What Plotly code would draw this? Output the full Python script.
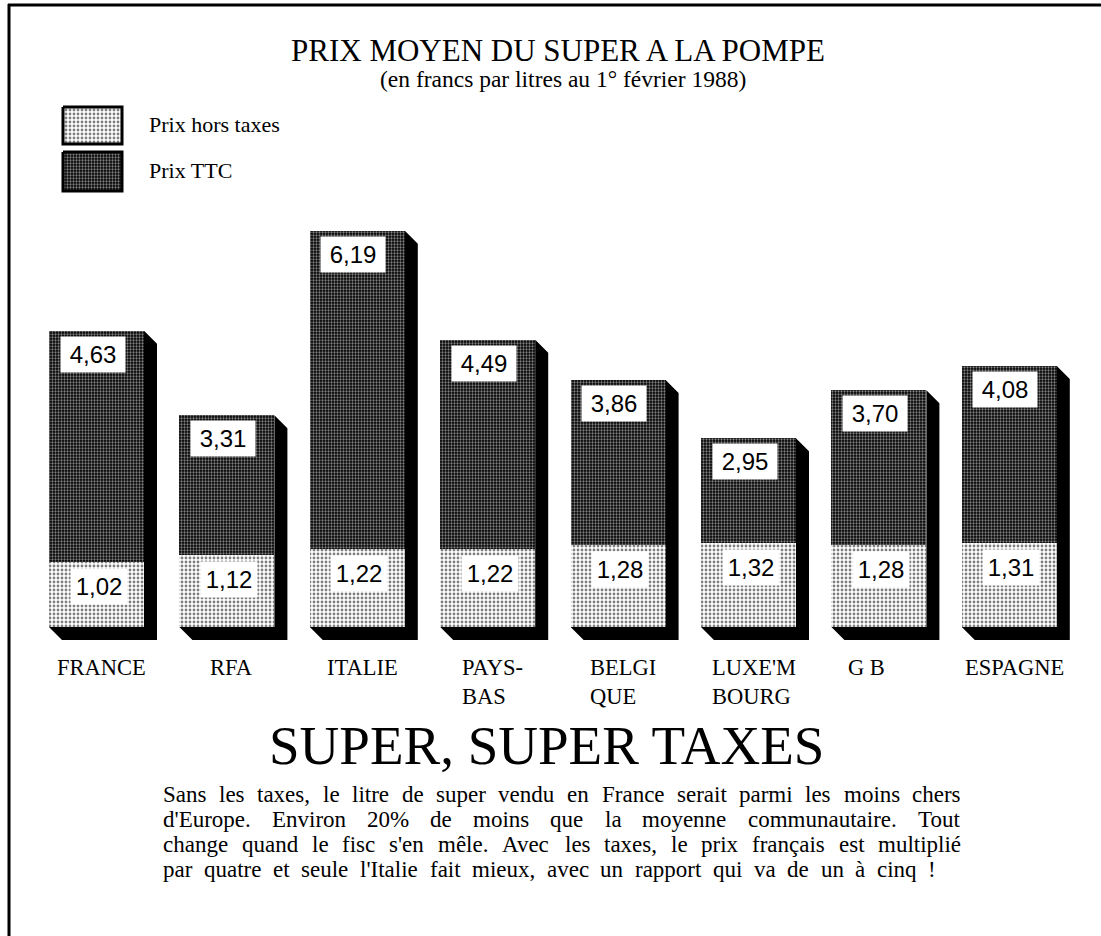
import plotly.graph_objects as go

# ---------------- data ----------------
countries = ["FRANCE", "RFA", "ITALIE", "PAYS-<br>BAS", "BELGI<br>QUE",
             "LUXE'M<br>BOURG", "G B", "ESPAGNE"]
prix_ht = [1.02, 1.12, 1.22, 1.22, 1.28, 1.32, 1.28, 1.31]
prix_ttc = [4.63, 3.31, 6.19, 4.49, 3.86, 2.95, 3.70, 4.08]
legend_names = ["Prix hors taxes", "Prix TTC"]

title = "PRIX MOYEN DU SUPER A LA POMPE"
subtitle = "(en francs par litres au 1° février 1988)"
headline = "SUPER, SUPER TAXES"
paragraph = [
    "Sans les taxes, le litre de super vendu en France serait parmi les moins chers",
    "d'Europe. Environ 20% de moins que la moyenne communautaire. Tout",
    "change quand le fisc s'en mêle. Avec les taxes, le prix français est multiplié",
    "par quatre et seule l'Italie fait mieux, avec un rapport qui va de un à cinq !",
]

# ---------------- geometry / style ----------------
W, H = 1101, 936
STEP_PX = 130.4          # distance between bars in px
C0_PX = 96.5             # centre of first bar in px
BASE_PX = 627            # baseline in px
UNIT_PX = 64.0           # px per franc
BAR_PX = 95
DEPTH_PX = 13

xmin = -C0_PX / STEP_PX
xmax = (W - C0_PX) / STEP_PX
ymax = BASE_PX / UNIT_PX
ymin = (BASE_PX - H) / UNIT_PX
bw = BAR_PX / STEP_PX
dx = DEPTH_PX / STEP_PX
dy = DEPTH_PX / UNIT_PX

serif = "Liberation Serif, Times New Roman, serif"
sans = "Liberation Sans, Arial, sans-serif"

light_pat = dict(shape=".", bgcolor="white", fgcolor="black", size=4, solidity=0.4)
dark_pat = dict(shape=".", bgcolor="black", fgcolor="white", size=3, solidity=0.45)

label_xshift = {"G B": -17}


def fmt(v):
    return f"{v:.2f}".replace(".", ",")


# Times-metric advance widths (per 1000 em) used to justify the paragraph
TW = {c: 500 for c in "0123456789abdghknopquvxy"}
TW.update({"a": 444, "c": 444, "e": 444, "z": 444, "f": 333, "r": 333, "i": 278,
           "j": 278, "l": 278, "t": 278, "m": 778, "s": 389, "w": 722,
           "A": 722, "E": 611, "F": 556, "I": 333, "S": 556, "T": 611,
           " ": 250, ",": 250, ".": 250, "'": 180, "%": 833, "!": 333,
           "ê": 444, "é": 444, "ç": 444, "à": 444})


def text_w(s, size):
    return sum(TW.get(ch, 500) for ch in s) * size / 1000.0


idx = list(range(len(countries)))
fig = go.Figure()

# 3D extrusion (side + bottom faces)
for i, top in zip(idx, prix_ttc):
    x0, x1 = i - bw / 2, i + bw / 2
    xs = [x1, x1 + dx, x1 + dx, x0 + dx, x0, x1, x1]
    ys = [top, top - dy, -dy, -dy, 0, 0, top]
    fig.add_trace(go.Scatter(x=xs, y=ys, mode="lines", fill="toself",
                             fillcolor="black", line=dict(width=0, color="black"),
                             hoverinfo="skip", showlegend=False))

fig.add_trace(go.Bar(x=idx, y=prix_ttc, width=bw, name=legend_names[1],
                     marker=dict(color="black", line=dict(width=0),
                                 pattern=dict(fillmode="overlay", **dark_pat)),
                     hoverinfo="skip", showlegend=False))
fig.add_trace(go.Bar(x=idx, y=prix_ht, width=bw, name=legend_names[0],
                     marker=dict(color="white", line=dict(width=0),
                                 pattern=dict(fillmode="overlay", **light_pat)),
                     hoverinfo="skip", showlegend=False))

# custom legend (pixel space axes)
legend_boxes = [(107, 144), (152, 191)]
for (t, b), name, pat in zip(legend_boxes, legend_names, [light_pat, dark_pat]):
    fig.add_trace(go.Scatter(x=[63, 122, 122, 63, 63], y=[t, t, b, b, t],
                             xaxis="x2", yaxis="y2", mode="lines", fill="toself",
                             fillcolor=pat["bgcolor"],
                             fillpattern=dict(fillmode="overlay", **pat),
                             line=dict(color="black", width=3),
                             hoverinfo="skip", showlegend=False))

ann = []
for (t, b), name in zip(legend_boxes, legend_names):
    ann.append(dict(x=147, y=(t + b) / 2 - 1, xref="x2", yref="y2", text=name,
                    showarrow=False, xanchor="left", yanchor="middle",
                    font=dict(family=serif, size=22, color="black")))

for i, v_ht, v_ttc, c in zip(idx, prix_ht, prix_ttc, countries):
    ann.append(dict(x=i, y=v_ttc, xref="x", yref="y", text=fmt(v_ttc),
                    showarrow=False, yanchor="top", yshift=-5, xshift=-4,
                    bgcolor="white", width=62, height=33, borderpad=1,
                    font=dict(family=sans, size=24, color="black")))
    ann.append(dict(x=i, y=v_ht, xref="x", yref="y", text=fmt(v_ht),
                    showarrow=False, yanchor="top", yshift=-6, xshift=2,
                    bgcolor="white", width=54, height=33, borderpad=1,
                    font=dict(family=sans, size=24, color="black")))
    ann.append(dict(x=i, y=0, xref="x", yref="y", text=c, showarrow=False,
                    yanchor="top", yshift=-26, align="left",
                    xshift=5 + label_xshift.get(c, 0),
                    font=dict(family=serif, size=22.5, color="black")))


def py(p):
    return 1 - p / H


ann.append(dict(x=558 / W, y=py(50), xref="paper", yref="paper", text=title,
                showarrow=False, xanchor="center", yanchor="middle",
                font=dict(family=serif, size=31, color="black")))
ann.append(dict(x=563 / W, y=py(79), xref="paper", yref="paper", text=subtitle,
                showarrow=False, xanchor="center", yanchor="middle",
                font=dict(family=serif, size=23.5, color="black")))
ann.append(dict(x=546 / W, y=py(745), xref="paper", yref="paper", text=headline,
                showarrow=False, xanchor="center", yanchor="middle",
                font=dict(family=serif, size=55, color="black")))

# justified paragraph (last line ends a little short)
PSIZE = 23
LEFT = 162
RIGHTS = [960, 960, 960, 935]
for k, (line, right) in enumerate(zip(paragraph, RIGHTS)):
    words = line.split(" ")
    ypos = py(794 + 25 * k)
    natural = sum(text_w(w_, PSIZE) for w_ in words)
    gap = (right - LEFT - natural) / max(len(words) - 1, 1)
    xcur = LEFT
    for w_ in words:
        ann.append(dict(x=xcur / W, y=ypos, xref="paper", yref="paper",
                        text=w_, showarrow=False, xanchor="left", yanchor="middle",
                        borderpad=0,
                        font=dict(family=serif, size=PSIZE, color="black")))
        xcur += text_w(w_, PSIZE) + gap

shapes = [
    dict(type="line", xref="paper", yref="paper", x0=9 / W, x1=9 / W, y0=py(4), y1=0,
         line=dict(color="black", width=3)),
    dict(type="line", xref="paper", yref="paper", x0=8 / W, x1=1, y0=py(5), y1=py(5),
         line=dict(color="black", width=3)),
]

fig.update_layout(
    width=W, height=H, margin=dict(l=0, r=0, t=0, b=0),
    paper_bgcolor="white", plot_bgcolor="white",
    barmode="overlay", bargap=0, hovermode=False,
    xaxis=dict(range=[xmin, xmax], visible=False, fixedrange=True),
    yaxis=dict(range=[ymin, ymax], visible=False, fixedrange=True),
    xaxis2=dict(range=[0, W], domain=[0, 1], anchor="y2", visible=False,
                overlaying="x", fixedrange=True),
    yaxis2=dict(range=[H, 0], domain=[0, 1], anchor="x2", visible=False,
                overlaying="y", fixedrange=True),
    annotations=ann, shapes=shapes, showlegend=False,
)

fig.write_html("out.html", config={"displayModeBar": False},
               post_script="document.body.style.margin='0px';"
                           "document.body.style.overflow='hidden';")
